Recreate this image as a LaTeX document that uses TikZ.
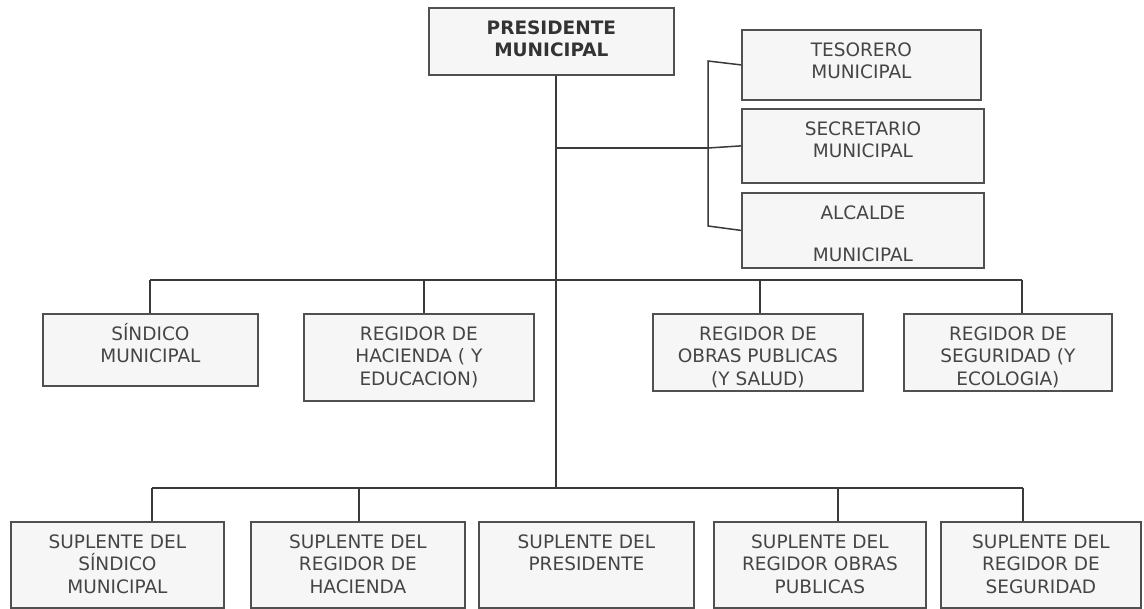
\documentclass[tikz,border=0pt]{standalone}
\usepackage{fontspec}
\setmainfont{DejaVu Sans}
\definecolor{bord}{HTML}{505050}
\definecolor{boxfill}{HTML}{F6F6F6}
\definecolor{txt}{HTML}{454545}
\definecolor{lncol}{HTML}{3A3A3A}
\newcommand{\bxt}[3]{\parbox[c][#2][t]{#1}{\centering\fontsize{18.5}{22.5}\selectfont\rule{0pt}{26.5pt}#3\par}}
\begin{document}
\begin{tikzpicture}[x=1pt,y=-1pt,
  bx/.style={draw=bord,fill=boxfill,line width=1.8pt,inner sep=0pt,anchor=north west,text=txt},
  ln/.style={draw=lncol,line width=1.5pt}]
\fill[white] (0,0) rectangle (1144,609);
\useasboundingbox (0,0) rectangle (1144,609);
% boxes
\node[bx,text=black!80] (pres) at (428,7) {\bxt{245pt}{67pt}{\bfseries PRESIDENTE\\MUNICIPAL}};
\node[bx] (tes) at (741,29) {\bxt{239pt}{70pt}{TESORERO\\MUNICIPAL}};
\node[bx] (sec) at (741,108) {\bxt{242pt}{74pt}{SECRETARIO\\MUNICIPAL}};
\node[bx] (alc) at (741,192) {\bxt{242pt}{75pt}{ALCALDE\\[19.5pt]MUNICIPAL}};
\node[bx] (sind) at (42,313) {\bxt{215pt}{72pt}{SÍNDICO\\MUNICIPAL}};
\node[bx] (hac) at (303,313) {\bxt{230pt}{87pt}{REGIDOR DE\\HACIENDA ( Y\\EDUCACION)}};
\node[bx] (obr) at (652,313) {\bxt{210pt}{77pt}{REGIDOR DE\\OBRAS PUBLICAS\\(Y SALUD)}};
\node[bx] (seg) at (903,313) {\bxt{208pt}{77pt}{REGIDOR DE\\SEGURIDAD (Y\\ECOLOGIA)}};
\node[bx] (s1) at (10,521) {\bxt{213pt}{86pt}{SUPLENTE DEL\\SÍNDICO\\MUNICIPAL}};
\node[bx] (s2) at (250,521) {\bxt{214pt}{86pt}{SUPLENTE DEL\\REGIDOR DE\\HACIENDA}};
\node[bx] (s3) at (478,521) {\bxt{215pt}{86pt}{SUPLENTE DEL\\PRESIDENTE}};
\node[bx] (s4) at (713,521) {\bxt{212pt}{86pt}{SUPLENTE DEL\\REGIDOR OBRAS\\PUBLICAS}};
\node[bx] (s5) at (940,521) {\bxt{200pt}{86pt}{SUPLENTE DEL\\REGIDOR DE\\SEGURIDAD}};
% coordinates
\coordinate (tk) at (556,148);
\coordinate (tb) at (556,488);
\coordinate (bm) at (708,148);
\coordinate (bt) at (708,61);
\coordinate (bb) at (708,226);
\coordinate (a1) at (150,280);
\coordinate (a2) at (424,280);
\coordinate (a3) at (760,280);
\coordinate (a4) at (1022,280);
\coordinate (b1) at (152,488);
\coordinate (b2) at (359,488);
\coordinate (b4) at (838,488);
\coordinate (b5) at (1023,488);
% connectors
\draw[ln] (pres.south -| tb) -- (tb);
\draw[ln] (tk) -- (bm);
\draw[ln] (tes.west) -- (bt) -- (bb) -- (alc.west);
\draw[ln] (bm) -- (sec.west);
\draw[ln] (a1) -- (a4);
\draw[ln] (a1) -- (a1 |- sind.north);
\draw[ln] (a2) -- (a2 |- hac.north);
\draw[ln] (a3) -- (a3 |- obr.north);
\draw[ln] (a4) -- (a4 |- seg.north);
\draw[ln] (b1) -- (b5);
\draw[ln] (b1) -- (b1 |- s1.north);
\draw[ln] (b2) -- (b2 |- s2.north);
\draw[ln] (b4) -- (b4 |- s4.north);
\draw[ln] (b5) -- (b5 |- s5.north);
\end{tikzpicture}
\end{document}
